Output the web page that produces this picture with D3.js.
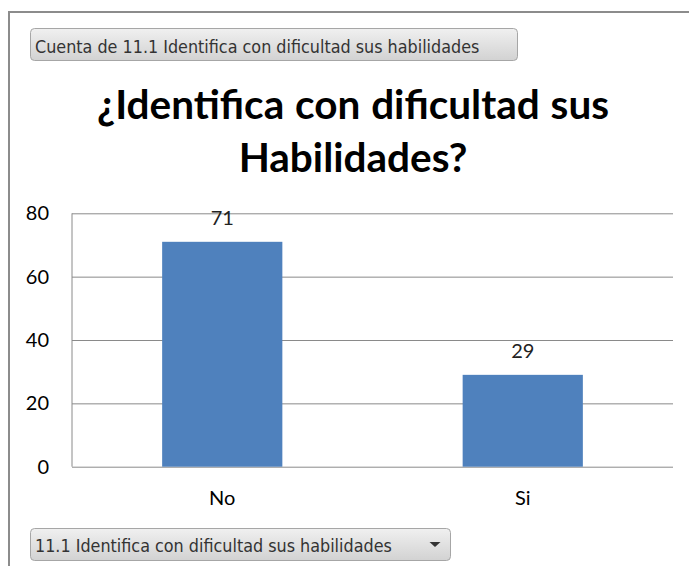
<!DOCTYPE html>
<html>
<head>
<meta charset="utf-8">
<script src="https://cdn.jsdelivr.net/npm/d3@7"></script>
<style>
    html, body { margin: 0; padding: 0; background: #fff; }
    svg { display: block; }
</style>
</head>
<body>
<div id="chart"></div>
<script>
// Pivot chart: Cuenta de 11.1
const categories = ["No", "Si"];
const counts = [71, 29];
const yTicks = [0, 20, 40, 60, 80];
const titleLines = ["¿Identifica con dificultad sus", "Habilidades?"];
const fieldButton = "Cuenta de 11.1 Identifica con dificultad sus habilidades";
const axisButton = "11.1 Identifica con dificultad sus habilidades";

const W = 689, H = 566;
const plot = { left: 72, right: 673, top: 213.3, bottom: 466.7 };
const uiFont = "'DejaVu Sans Condensed', 'DejaVu Sans', sans-serif";
const chartFont = "Lato, 'Open Sans', sans-serif";

const svg = d3.select("#chart").append("svg")
    .attr("width", W)
    .attr("height", H);

// gradient for pivot buttons
const grad = svg.append("defs").append("linearGradient")
    .attr("id", "btn-grad")
    .attr("x1", 0).attr("y1", 0).attr("x2", 0).attr("y2", 1);
grad.append("stop").attr("offset", "0%").attr("stop-color", "#f0f0f0");
grad.append("stop").attr("offset", "100%").attr("stop-color", "#d2d2d2");

// outer frame (top + left edges visible)
svg.append("path")
    .attr("d", `M9,${H} L9,12 L${W},12`)
    .attr("fill", "none")
    .attr("stroke", "#8c8c8c")
    .attr("stroke-width", 2);

function button(x, y, w, h, baseline, label, arrow) {
    const g = svg.append("g").attr("transform", `translate(${x},${y})`);
    g.append("rect")
        .attr("width", w).attr("height", h)
        .attr("rx", 4)
        .attr("fill", "url(#btn-grad)")
        .attr("stroke", "#a6a6a6");
    g.append("text")
        .attr("x", 4.5).attr("y", baseline)
        .attr("font-family", uiFont)
        .attr("font-size", 17.8)
        .attr("fill", "#333")
        .text(label);
    if (arrow) {
        g.append("path")
            .attr("d", `M${w - 21},${h / 2 - 2.5} l11,0 l-5.5,5 z`)
            .attr("fill", "#333");
    }
}

button(30.5, 28.5, 487, 32, 24.5, fieldButton, false);
button(30.5, 528.5, 420, 32, 23, axisButton, true);

// title
svg.append("g").selectAll("text")
    .data(titleLines)
    .join("text")
    .attr("x", 353)
    .attr("y", (d, i) => 119 + i * 53)
    .attr("text-anchor", "middle")
    .attr("font-family", chartFont)
    .attr("font-weight", "bold")
    .attr("font-size", 40.5)
    .attr("word-spacing", 1)
    .attr("fill", "#000")
    .text(d => d);

// scales
const x = d3.scaleBand()
    .domain(categories)
    .range([plot.left, plot.right])
    .paddingInner(0.6)
    .paddingOuter(0.3);

const y = d3.scaleLinear()
    .domain([0, 80])
    .range([plot.bottom, plot.top]);

// gridlines
svg.append("g")
    .attr("transform", `translate(${plot.left},0)`)
    .call(d3.axisLeft(y).tickValues(yTicks).tickSize(-(plot.right - plot.left)).tickFormat(""))
    .call(g => g.select(".domain").remove())
    .call(g => g.selectAll("line").attr("stroke", "#8a8a8a").attr("stroke-width", 1));

// vertical axis line
svg.append("line")
    .attr("x1", plot.left).attr("x2", plot.left)
    .attr("y1", y(80)).attr("y2", y(0))
    .attr("stroke", "#8a8a8a");

// y tick labels
svg.append("g")
    .attr("transform", `translate(49,0)`)
    .call(d3.axisLeft(y).tickValues(yTicks).tickSize(0).tickPadding(0))
    .call(g => g.select(".domain").remove())
    .call(g => g.selectAll("text")
        .attr("font-family", chartFont)
        .attr("font-size", 20)
        .attr("fill", "#000"));

// bars
svg.append("g").selectAll("rect")
    .data(categories)
    .join("rect")
    .attr("x", d => x(d))
    .attr("width", x.bandwidth())
    .attr("y", (d, i) => y(counts[i]))
    .attr("height", (d, i) => y(0) - y(counts[i]))
    .attr("fill", "#4f81bd");

// data labels
svg.append("g").selectAll("text")
    .data(categories)
    .join("text")
    .attr("x", d => x(d) + x.bandwidth() / 2)
    .attr("y", (d, i) => y(counts[i]) - 17)
    .attr("text-anchor", "middle")
    .attr("font-family", chartFont)
    .attr("font-size", 20)
    .attr("fill", "#222")
    .text((d, i) => counts[i]);

// x axis labels
svg.append("g")
    .attr("transform", `translate(0,${plot.bottom})`)
    .call(d3.axisBottom(x).tickSize(0).tickPadding(0))
    .call(g => g.select(".domain").remove())
    .call(g => g.selectAll("text")
        .attr("dy", 0)
        .attr("y", 38)
        .attr("font-family", chartFont)
        .attr("font-size", 20)
        .attr("fill", "#000"));
</script>
</body>
</html>
